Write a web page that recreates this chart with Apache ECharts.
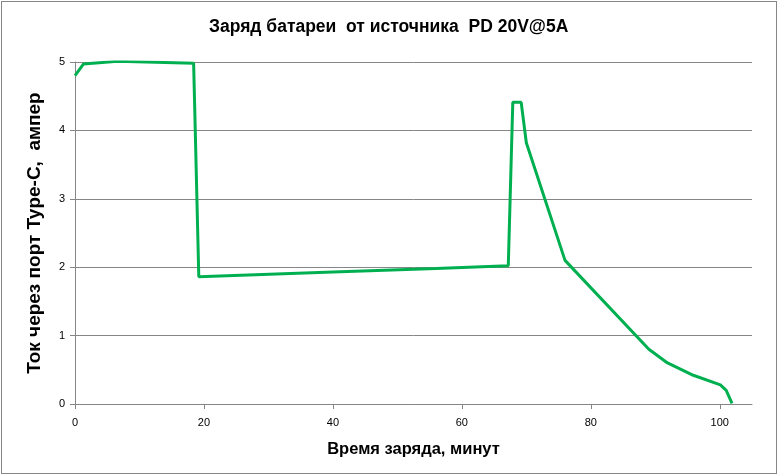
<!DOCTYPE html>
<html>
<head>
<meta charset="utf-8">
<script src="https://cdn.jsdelivr.net/npm/echarts@6/dist/echarts.min.js"></script>
<style>
html,body{margin:0;padding:0;background:#fff;}
#frame{position:absolute;left:1px;top:1px;width:774px;height:471px;border:1px solid #868686;box-sizing:content-box;}
#chart{position:absolute;left:0;top:0;width:778px;height:475px;}
</style>
</head>
<body>
<div id="frame"></div>
<div id="chart"></div>
<script>
const titleText = 'Заряд батареи  от источника  PD 20V@5A';
const xName = 'Время заряда, минут';
const yName = 'Ток через порт Type-C,  ампер';
const timeMin = [0, 1.3, 6.6, 18.4, 19.2, 40, 56, 67.2, 67.9, 69.2, 70.0, 76.0, 89.0, 91.9, 95.9, 100.1, 101.0, 101.9];
const currentA = [4.8, 4.97, 5.01, 4.98, 1.86, 1.93, 1.98, 2.02, 4.41, 4.41, 3.82, 2.1, 0.8, 0.6, 0.42, 0.28, 0.2, 0.01];
const xTicks = [0, 20, 40, 60, 80, 100];
const yTicks = [0, 1, 2, 3, 4, 5];

const data = timeMin.map((t, i) => [t, currentA[i]]);
const chart = echarts.init(document.getElementById('chart'), null, {renderer: 'canvas'});
const font = 'Liberation Sans, Arial, sans-serif';
chart.setOption({
  animation: false,
  backgroundColor: 'transparent',
  title: {
    text: titleText, left: 204, top: 13,
    textStyle: {fontFamily: font, fontSize: 17.5, fontWeight: 'bold', color: '#000'}
  },
  grid: {left: 75, right: 26, top: 62, bottom: 71, containLabel: false},
  xAxis: {
    type: 'value', min: 0, max: 105, interval: 20,
    name: xName, nameLocation: 'middle', nameGap: 37,
    nameTextStyle: {fontFamily: font, fontSize: 16.5, fontWeight: 'bold', color: '#000'},
    axisLine: {show: true, lineStyle: {color: '#868686', width: 1}},
    axisTick: {show: true, length: 5, lineStyle: {color: '#868686'}},
    axisLabel: {
      color: '#000', fontFamily: font, fontSize: 11, margin: 13,
      showMaxLabel: false,
      formatter: v => xTicks.includes(v) ? String(v) : ''
    },
    splitLine: {show: false}
  },
  yAxis: {
    type: 'value', min: 0, max: 5, interval: 1,
    name: yName, nameLocation: 'middle', nameGap: 31, nameRotate: 90,
    nameTextStyle: {fontFamily: font, fontSize: 19, fontWeight: 'bold', color: '#000'},
    axisLine: {show: true, lineStyle: {color: '#868686', width: 1}},
    axisTick: {show: true, length: 5, lineStyle: {color: '#868686'}},
    axisLabel: {
      color: '#000', fontFamily: font, fontSize: 11, margin: 10,
      formatter: v => yTicks.includes(v) ? String(v) : ''
    },
    splitLine: {show: true, lineStyle: {color: '#868686', width: 1}}
  },
  series: [{
    type: 'line', data: data, showSymbol: false, symbol: 'none',
    lineStyle: {color: '#00B050', width: 3}, smooth: false
  }]
});
</script>
</body>
</html>
